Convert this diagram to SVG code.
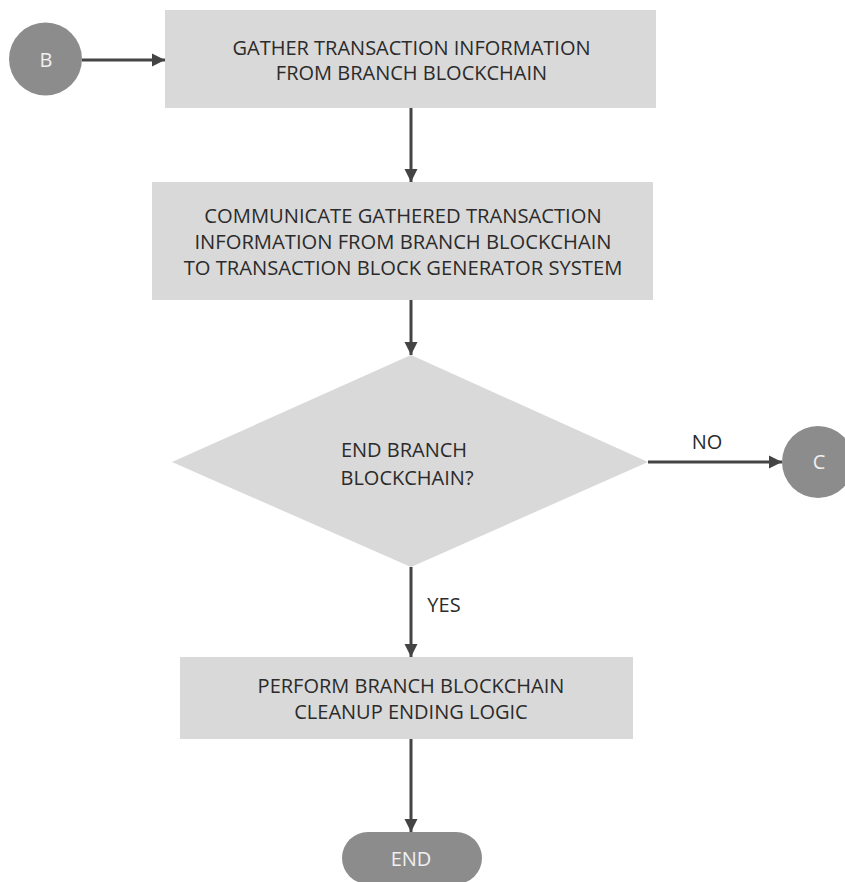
<svg xmlns="http://www.w3.org/2000/svg" width="845" height="882" viewBox="0 0 845 882">
  <style>
    .box { fill: #d9d9d9; }
    .term { fill: #8c8c8c; }
    .lbl { font-family: "Open Sans", "Liberation Sans", sans-serif; font-size: 20px; fill: #2b2b2b; text-anchor: middle; }
    .mid { font-size: 20.2px; }
    .tlbl { font-family: "Open Sans", "Liberation Sans", sans-serif; font-size: 20px; fill: #f0f0f0; text-anchor: middle; }
    .edge { stroke: #444; stroke-width: 3; fill: none; }
  </style>
  <defs>
    <marker id="arrow" viewBox="0 0 10 10" refX="10" refY="5" markerWidth="4.4" markerHeight="4.4" markerUnits="strokeWidth" orient="auto">
      <path d="M0,0 L10,5 L0,10 z" fill="#444"/>
    </marker>
  </defs>

  <rect width="845" height="882" fill="#ffffff"/>

  <g id="connectors">
    <line class="edge" x1="82" y1="60" x2="165" y2="60" marker-end="url(#arrow)"/>
    <line class="edge" x1="411" y1="108" x2="411" y2="182" marker-end="url(#arrow)"/>
    <line class="edge" x1="411" y1="300" x2="411" y2="355" marker-end="url(#arrow)"/>
    <line class="edge" x1="648" y1="462" x2="782" y2="462" marker-end="url(#arrow)"/>
    <line class="edge" x1="411" y1="567" x2="411" y2="657" marker-end="url(#arrow)"/>
    <line class="edge" x1="411" y1="739" x2="411" y2="832" marker-end="url(#arrow)"/>
    <text class="lbl" x="707" y="449">NO</text>
    <text class="lbl" x="444" y="612">YES</text>
  </g>

  <g id="start-b">
    <circle class="term" cx="45.5" cy="59" r="36.5"/>
    <text class="tlbl" x="46" y="67">B</text>
  </g>

  <g id="gather">
    <rect class="box" x="165" y="10" width="491" height="98"/>
    <text class="lbl" x="411.5" y="55">GATHER TRANSACTION INFORMATION</text>
    <text class="lbl" x="411.5" y="80">FROM BRANCH BLOCKCHAIN</text>
  </g>

  <g id="communicate">
    <rect class="box" x="152" y="182" width="501" height="118"/>
    <text class="lbl mid" x="403" y="223">COMMUNICATE GATHERED TRANSACTION</text>
    <text class="lbl mid" x="403" y="249">INFORMATION FROM BRANCH BLOCKCHAIN</text>
    <text class="lbl mid" x="403" y="275">TO TRANSACTION BLOCK GENERATOR SYSTEM</text>
  </g>

  <g id="decision">
    <polygon class="box" points="411,355 648,462 411,567 172,462"/>
    <text class="lbl" x="404" y="457">END BRANCH</text>
    <text class="lbl" x="407" y="485">BLOCKCHAIN?</text>
  </g>

  <g id="connector-c">
    <circle class="term" cx="818" cy="462" r="36"/>
    <text class="tlbl" x="819" y="469">C</text>
  </g>

  <g id="cleanup">
    <rect class="box" x="180" y="657" width="453" height="82"/>
    <text class="lbl" x="411" y="693">PERFORM BRANCH BLOCKCHAIN</text>
    <text class="lbl" x="411" y="719">CLEANUP ENDING LOGIC</text>
  </g>

  <g id="end">
    <rect class="term" x="342" y="832" width="140" height="52" rx="26"/>
    <text class="tlbl" x="411" y="866">END</text>
  </g>
</svg>
